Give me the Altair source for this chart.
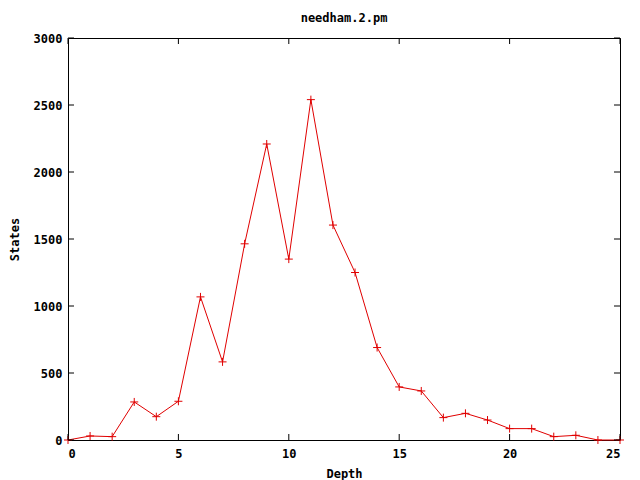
import altair as alt
import pandas as pd

depth = list(range(26))
states = [0, 30, 25, 284, 174, 289, 1068, 583, 1464, 2209, 1350, 2540, 1604, 1250,
          690, 396, 366, 167, 199, 149, 85, 85, 25, 35, 0, 0]
x_ticks = [0, 5, 10, 15, 20, 25]
y_ticks = [0, 500, 1000, 1500, 2000, 2500, 3000]

W, H = 552, 402
FONT = "DejaVu Sans Mono"
RED = "#e00000"

df = pd.DataFrame({"Depth": depth, "States": states})
xt = pd.DataFrame({"Depth": x_ticks})
yt = pd.DataFrame({"States": y_ticks})

xs = alt.Scale(domain=[0, 25], nice=False, zero=False)
ys = alt.Scale(domain=[0, 3000], nice=False, zero=False)

x_axis = alt.Axis(values=x_ticks, title="Depth", domain=False, ticks=False, grid=False,
                  labelPadding=8, titlePadding=9, format="d")
y_axis = alt.Axis(values=y_ticks, title="States", domain=False, ticks=False, grid=False,
                  labelPadding=6, titlePadding=12, format="d")

line = alt.Chart(df).mark_line(color=RED, strokeWidth=1).encode(
    x=alt.X("Depth:Q", scale=xs, axis=x_axis),
    y=alt.Y("States:Q", scale=ys, axis=y_axis),
)
pts = alt.Chart(df).mark_point(
    shape="M-1,0L1,0M0,-1L0,1", size=64, color=RED, strokeWidth=1, filled=False, opacity=1
).encode(
    x=alt.X("Depth:Q", scale=xs),
    y=alt.Y("States:Q", scale=ys),
)

tick_style = dict(color="black", strokeWidth=1)
xb = alt.Chart(xt).mark_rule(**tick_style).encode(
    x=alt.X("Depth:Q", scale=xs), y=alt.value(H), y2=alt.value(H - 6))
xtop = alt.Chart(xt).mark_rule(**tick_style).encode(
    x=alt.X("Depth:Q", scale=xs), y=alt.value(0), y2=alt.value(6))
yl = alt.Chart(yt).mark_rule(**tick_style).encode(
    y=alt.Y("States:Q", scale=ys), x=alt.value(0), x2=alt.value(6))
yr = alt.Chart(yt).mark_rule(**tick_style).encode(
    y=alt.Y("States:Q", scale=ys), x=alt.value(W), x2=alt.value(W - 6))

chart = alt.layer(line, pts, xb, xtop, yl, yr).properties(
    width=W, height=H,
    title=alt.TitleParams("needham.2.pm", font=FONT, fontSize=12, fontWeight="bold",
                          color="black", offset=7, anchor="middle"),
    autosize=alt.AutoSizeParams(type="none"),
    padding={"left": 60, "top": 30, "right": 12, "bottom": 40},
    background="white",
).configure_view(stroke="black", strokeWidth=1).configure_axis(
    labelFont=FONT, labelFontSize=12, labelFontWeight="bold", labelColor="black",
    titleFont=FONT, titleFontSize=12, titleFontWeight="bold", titleColor="black",
)

chart.save("out.html", embed_options={"renderer": "svg", "actions": False})
